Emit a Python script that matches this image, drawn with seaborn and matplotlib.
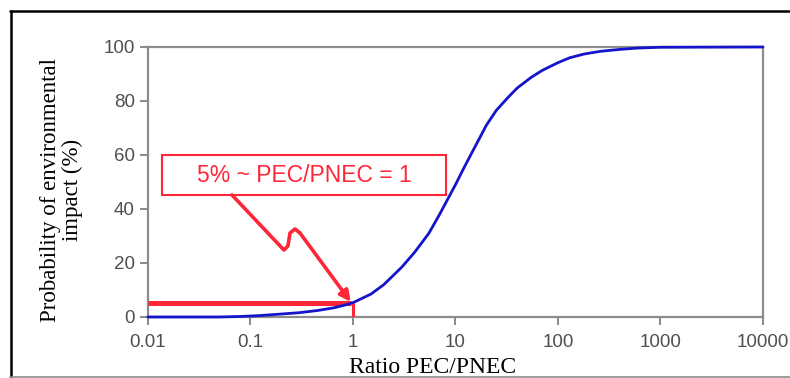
import numpy as np
import pandas as pd
import matplotlib
matplotlib.use("Agg")
import matplotlib.pyplot as plt
from matplotlib.patches import Rectangle
from matplotlib.lines import Line2D
import seaborn as sns

# curve
ratio = [0.01, 0.05, 0.08, 0.12, 0.2, 0.3, 0.45, 0.65, 0.85, 1.0, 1.5, 2.0, 3.0, 4.0,
         5.5, 7.0, 8.5, 10, 12, 15, 20, 25, 32, 40, 55, 70, 100, 130, 180, 260,
         400, 600, 1000, 10000]
prob = [0, 0, 0.2, 0.5, 1.1, 1.6, 2.4, 3.4, 4.5, 5.3, 8.5, 12, 18.5, 24,
        31, 38, 44, 49, 55, 62, 71, 76.5, 81, 84.8, 88.8, 91.3, 94.2, 96.0, 97.4, 98.4,
        99.1, 99.6, 99.9, 100]

xticks = [0.01, 0.1, 1, 10, 100, 1000, 10000]
xtick_labels = ["0.01", "0.1", "1", "10", "100", "1000", "10000"]
yticks = [0, 20, 40, 60, 80, 100]

# annotation
note_text = "5% ~ PEC/PNEC = 1"
box_x = [0.0137, 8.07]
box_y = [45.2, 60]
zig_x = [0.066, 0.212, 0.232, 0.243, 0.272, 0.304]
zig_y = [45.2, 24.8, 26.3, 31.1, 32.6, 31.1]
tip = (0.95, 5.6)
level = 5.3

red = "#FF2638"
blue = "#1414CC"
gray = "#8C8C8C"

sns.set_theme(style="white")
plt.rcParams['font.family'] = ['Liberation Sans', 'DejaVu Sans']

fig = plt.figure(figsize=(7.9, 3.78), dpi=100)
ax = fig.add_axes([0.1873, 0.1614, 0.7785, 0.7143])

df = pd.DataFrame({"ratio": ratio, "prob": prob})
sns.lineplot(data=df, x="ratio", y="prob", ax=ax, color=blue, lw=2, clip_on=False, zorder=4)

ax.set_xscale("log")
ax.set_xlim(0.01, 10000)
ax.set_ylim(0, 100)
ax.set_xticks(xticks)
ax.set_xticklabels(xtick_labels)
ax.set_yticks(yticks)
ax.minorticks_off()

for s in ax.spines.values():
    s.set_color(gray)
    s.set_linewidth(1.6)
ax.tick_params(axis="both", direction="out", length=5.5, width=1.5, color=gray,
               labelsize=13.5, labelcolor="#505050", bottom=True, left=True)
ax.tick_params(axis="x", pad=7)
ax.tick_params(axis="y", pad=4)

ax.set_xlabel("Ratio PEC/PNEC", family="Liberation Serif", fontsize=17, color="black")
ax.xaxis.set_label_coords(0.463, -0.148)
ax.set_ylabel("Probability of environmental\nimpact (%)", family="Liberation Serif",
              fontsize=16.5, color="black", linespacing=1.1)
ax.yaxis.set_label_coords(-0.105, 0.47)

# red reference lines
ax.plot([0.01, tip[0]], [level, level], color=red, lw=3.6, solid_capstyle="butt", zorder=3)
ax.plot([1, 1], [0, level], color=red, lw=2.2, solid_capstyle="butt", zorder=3)

# box and text
ax.add_patch(Rectangle((box_x[0], box_y[0]), box_x[1] - box_x[0], box_y[1] - box_y[0],
                       fill=False, edgecolor=red, lw=1.5, zorder=5))
ax.text(np.sqrt(box_x[0] * box_x[1]), 52.4, note_text, color=red, fontsize=16.5,
        ha="center", va="center", zorder=5)

# zigzag arrow
ax.plot(zig_x, zig_y, color=red, lw=2.6, solid_joinstyle="round", solid_capstyle="round", zorder=5)
ax.annotate("", xy=tip, xytext=(zig_x[-1], zig_y[-1]),
            arrowprops=dict(arrowstyle="-|>", color=red, lw=2.6, mutation_scale=16,
                            shrinkA=0, shrinkB=0), zorder=5)

# outer frame
fig.add_artist(Line2D([10.5 / 790, 10.5 / 790], [0, 1 - 11 / 378], color="black", lw=1.8))
fig.add_artist(Line2D([10 / 790, 1], [1 - 11 / 378, 1 - 11 / 378], color="black", lw=1.8))
fig.add_artist(Line2D([10 / 790, 1], [1.5 / 378, 1.5 / 378], color=gray, lw=1.2))

fig.savefig("out.png", dpi=100)
